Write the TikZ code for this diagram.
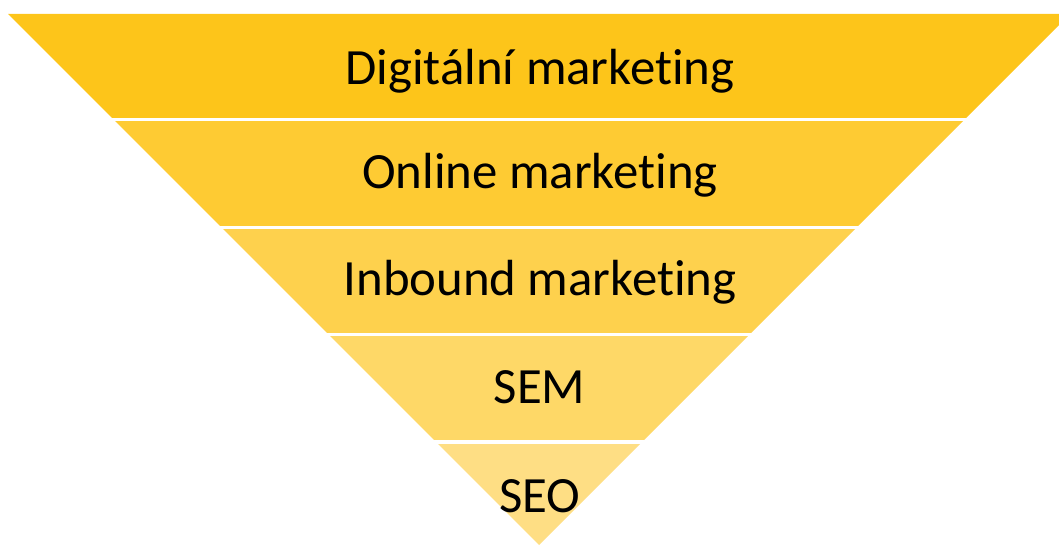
\documentclass[tikz,border=0pt]{standalone}
\usepackage{fontspec}
\setmainfont{Carlito}[Ligatures=NoCommon]
% keep "t" and "i" apart so the font does not join them
\newcommand{\mkting}{market\kern0pt ing}
\begin{document}
\begin{tikzpicture}[x=1pt,y=1pt,
  lbl/.style={anchor=base, inner sep=0pt, font=\fontsize{50.8}{56}\selectfont, text=black},
  gap/.style={draw=white, line width=3pt}]
\definecolor{band1}{HTML}{FDC51A}
\definecolor{band2}{HTML}{FECB33}
\definecolor{band3}{HTML}{FED14D}
\definecolor{band4}{HTML}{FED867}
\definecolor{band5}{HTML}{FEDE84}
\useasboundingbox (0,0) rectangle (1059,546);
\clip (0,0) rectangle (1059,546);
% funnel edges: left x = 8 + (532 - y), right x = 1070 - (532 - y)
\coordinate (ap) at (539,1);
\fill[band1] (8,532) -- (1070,532) -- (964,426) -- (114,426) -- cycle;
\fill[band2] (114,426) -- (964,426) -- (856,318) -- (222,318) -- cycle;
\fill[band3] (222,318) -- (856,318) -- (749,211) -- (329,211) -- cycle;
\fill[band4] (329,211) -- (749,211) -- (642,104) -- (436,104) -- cycle;
\fill[band5] (436,104) -- (642,104) -- (ap) -- cycle;
% white separators between the bands
\coordinate (s1l) at (0,426); \coordinate (s1r) at (1059,426);
\coordinate (s2l) at (0,318); \coordinate (s2r) at (1059,318);
\coordinate (s3l) at (0,211); \coordinate (s3r) at (1059,211);
\coordinate (s4l) at (0,104); \coordinate (s4r) at (1059,104);
\draw[gap] (s1l) -- (s1r);
\draw[gap] (s2l) -- (s2r);
\draw[gap] (s3l) -- (s3r);
\draw[gap] (s4l) -- (s4r);
% labels
\node[lbl] (l1) at (540,461) {Digitální \mkting};
\node[lbl] (l2) at (540,357) {Online \mkting};
\node[lbl] (l3) at (540,250) {Inbound \mkting};
\node[lbl] (l4) at (539.5,142) {SEM};
\node[lbl] (l5) at (539.5,34) {SEO};
\end{tikzpicture}
\end{document}
